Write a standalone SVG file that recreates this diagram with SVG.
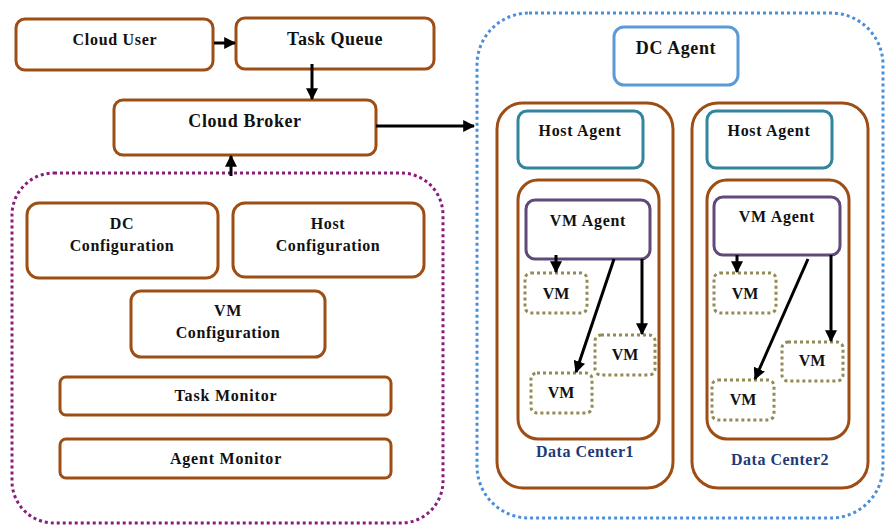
<svg xmlns="http://www.w3.org/2000/svg" width="886" height="525" viewBox="0 0 886 525">
<defs>
<marker id="ah" viewBox="0 0 10 10" refX="9" refY="5" markerWidth="4" markerHeight="4" orient="auto" markerUnits="strokeWidth"><path d="M0,0 L10,5 L0,10 z" fill="#000"/></marker>
<style>
.br{fill:#fff;stroke:#9E4E14;stroke-width:3}
.brn{fill:none;stroke:#9E4E14;stroke-width:3}
.t{font-family:"Liberation Serif","Times New Roman","DejaVu Serif",serif;font-weight:bold;fill:#111;text-anchor:middle;font-size:16px;letter-spacing:0.6px}
.big{font-size:18px;letter-spacing:0.5px}
.v{letter-spacing:0}
.vm{fill:#fff;stroke:#948A54;stroke-width:3;stroke-dasharray:3 3}
.c{stroke:#000;stroke-width:3;fill:none;marker-end:url(#ah)}
.dl{font-family:"Liberation Serif","Times New Roman","DejaVu Serif",serif;font-weight:bold;fill:#1F3A78;text-anchor:middle;font-size:16px;letter-spacing:0.5px}
</style>
</defs>
<rect width="886" height="525" fill="#fff"/>

<g id="config-panel"><rect x="12" y="173" width="431" height="350" rx="42" fill="none" stroke="#8A1C7C" stroke-width="3" stroke-dasharray="3 3"/></g>
<g id="dc-panel"><rect x="477" y="13" width="406" height="505" rx="52" fill="none" stroke="#4A8FDA" stroke-width="3" stroke-dasharray="3 3"/></g>

<g id="cloud-user"><rect class="br" x="16" y="19" width="197" height="51" rx="9"/><text class="t" x="115" y="45" style="letter-spacing:0.7px">Cloud User</text></g>
<g id="task-queue"><rect class="br" x="236" y="18" width="198" height="51" rx="9"/><text class="t big" x="335" y="45">Task Queue</text></g>
<g id="cloud-broker"><rect class="br" x="114" y="100" width="262" height="55" rx="9"/><text class="t big" x="245" y="127" style="letter-spacing:0.6px">Cloud Broker</text></g>

<g id="dc-config"><rect class="br" x="27" y="203" width="191" height="75" rx="12"/><text class="t" x="122" y="229">DC</text><text class="t" x="122" y="251">Configuration</text></g>
<g id="host-config"><rect class="br" x="233" y="203" width="191" height="74" rx="12"/><text class="t" x="328" y="229">Host</text><text class="t" x="328" y="251">Configuration</text></g>
<g id="vm-config"><rect class="br" x="131" y="291" width="194" height="66" rx="10"/><text class="t" x="228" y="316">VM</text><text class="t" x="228" y="338">Configuration</text></g>
<g id="task-monitor"><rect class="br" x="60" y="377" width="331" height="38" rx="6"/><text class="t" x="226" y="401" style="letter-spacing:0.8px">Task Monitor</text></g>
<g id="agent-monitor"><rect class="br" x="60" y="439" width="331" height="39" rx="6"/><text class="t" x="226" y="464" style="letter-spacing:0.8px">Agent Monitor</text></g>

<g id="dc-agent"><rect x="614" y="27" width="124" height="58" rx="10" fill="#fff" stroke="#5B9BD5" stroke-width="3"/><text class="t big" x="676" y="54" style="letter-spacing:0.6px">DC Agent</text></g>

<g id="data-center1">
<rect class="br" x="497" y="103" width="176" height="385" rx="26"/>
<rect class="brn" x="518" y="180" width="141" height="259" rx="20"/>
<text class="dl" x="585" y="457">Data Center1</text>
</g>
<g id="host-agent1"><rect x="518" y="111" width="125" height="57" rx="9" fill="#fff" stroke="#31859C" stroke-width="3"/><text class="t" x="580" y="136" style="letter-spacing:0.7px">Host Agent</text></g>
<g id="vm-agent1"><rect x="526" y="200" width="124" height="59" rx="9" fill="#fff" stroke="#604A7B" stroke-width="3"/><text class="t" x="588" y="226" style="letter-spacing:0.7px">VM Agent</text></g>
<g id="vm1a"><rect class="vm" x="525" y="273" width="62" height="40" rx="6"/><text class="t v" x="556" y="299">VM</text></g>
<g id="vm1b"><rect class="vm" x="595" y="335" width="60" height="40" rx="6"/><text class="t v" x="625" y="360">VM</text></g>
<g id="vm1c"><rect class="vm" x="531" y="373" width="61" height="40" rx="6"/><text class="t v" x="561" y="398">VM</text></g>

<g id="data-center2">
<rect class="br" x="692" y="103" width="176" height="385" rx="26"/>
<rect class="brn" x="707" y="180" width="142" height="259" rx="20"/>
<text class="dl" x="780" y="465">Data Center2</text>
</g>
<g id="host-agent2"><rect x="707" y="111" width="125" height="57" rx="9" fill="#fff" stroke="#31859C" stroke-width="3"/><text class="t" x="769" y="136" style="letter-spacing:0.7px">Host Agent</text></g>
<g id="vm-agent2"><rect x="714" y="197" width="126" height="58" rx="9" fill="#fff" stroke="#604A7B" stroke-width="3"/><text class="t" x="777" y="222" style="letter-spacing:0.7px">VM Agent</text></g>
<g id="vm2a"><rect class="vm" x="714" y="273" width="62" height="40" rx="6"/><text class="t v" x="745" y="299">VM</text></g>
<g id="vm2b"><rect class="vm" x="782" y="342" width="61" height="39" rx="6"/><text class="t v" x="812" y="366">VM</text></g>
<g id="vm2c"><rect class="vm" x="712" y="380" width="62" height="40" rx="6"/><text class="t v" x="743" y="405">VM</text></g>

<g id="connectors">
<line class="c" x1="214" y1="43" x2="235" y2="43"/>
<line class="c" x1="312" y1="64" x2="312" y2="99"/>
<line class="c" x1="376" y1="126" x2="474" y2="126"/>
<line class="c" x1="231" y1="176" x2="231" y2="156"/>
<line class="c" x1="556" y1="255" x2="556" y2="272"/>
<line class="c" x1="614" y1="259" x2="576" y2="372"/>
<line class="c" x1="642" y1="259" x2="642" y2="334"/>
<line class="c" x1="737" y1="255" x2="737" y2="272"/>
<line class="c" x1="808" y1="259" x2="755" y2="379"/>
<line class="c" x1="831" y1="255" x2="831" y2="341"/>
</g>
</svg>
